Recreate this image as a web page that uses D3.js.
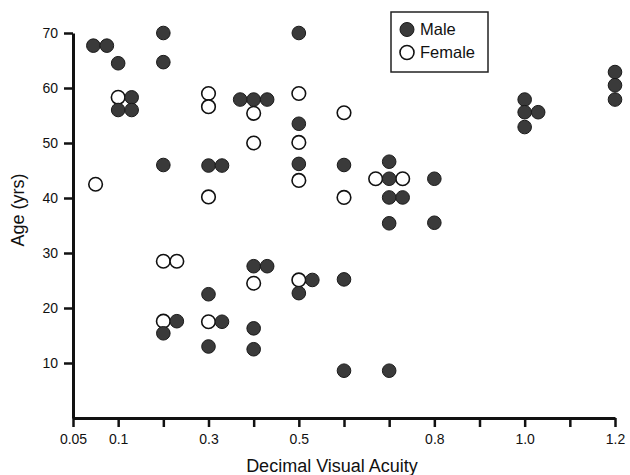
<!DOCTYPE html>
<html>
<head>
<meta charset="utf-8">
<script src="https://cdn.jsdelivr.net/npm/d3@7"></script>
<style>
    body { margin: 0; background: #fff; }
    svg { display: block; font-family: "Liberation Sans", Arial, Helvetica, sans-serif; }
</style>
</head>
<body>
<div id="chart"></div>
<script>
// Axis ticks (evenly spaced, only some labelled)
const acuityTicks = [0.05, 0.1, 0.2, 0.3, 0.4, 0.5, 0.6, 0.7, 0.8, 0.9, 1.0, 1.1, 1.2];
const acuityLabels = { 0.05: '0.05', 0.1: '0.1', 0.3: '0.3', 0.5: '0.5', 0.8: '0.8', 1.0: '1.0', 1.2: '1.2' };
const ageTicks = [10, 20, 30, 40, 50, 60, 70];

// [acuity, age, side-by-side offset in dot widths]
const males = [
    [0.08, 67.7, -0.5], [0.08, 67.7, 0.5],
    [0.1, 64.5, 0], [0.1, 58.3, 1], [0.1, 56, 0], [0.1, 56, 1],
    [0.2, 70, 0], [0.2, 64.7, 0], [0.2, 46, 0], [0.2, 17.6, 1], [0.2, 15.4, 0],
    [0.3, 45.9, 0], [0.3, 45.9, 1], [0.3, 22.5, 0], [0.3, 17.5, 1], [0.3, 13.0, 0],
    [0.4, 57.9, -1], [0.4, 57.9, 0], [0.4, 57.9, 1], [0.4, 27.6, 0], [0.4, 27.6, 1], [0.4, 16.3, 0], [0.4, 12.5, 0],
    [0.5, 70, 0], [0.5, 53.5, 0], [0.5, 46.2, 0], [0.5, 25.1, 1], [0.5, 22.7, 0],
    [0.6, 46, 0], [0.6, 25.2, 0], [0.6, 8.6, 0],
    [0.7, 46.6, 0], [0.7, 43.5, 0], [0.7, 40.1, 0], [0.7, 40.1, 1], [0.7, 35.4, 0], [0.7, 8.6, 0],
    [0.8, 43.5, 0], [0.8, 35.5, 0],
    [1.0, 57.9, 0], [1.0, 55.6, 0], [1.0, 55.6, 1], [1.0, 52.9, 0],
    [1.2, 62.9, 0], [1.2, 60.5, 0], [1.2, 57.9, 0]
];

const females = [
    [0.075, 42.5, 0],
    [0.1, 58.3, 0],
    [0.2, 28.5, 0], [0.2, 28.5, 1], [0.2, 17.6, 0],
    [0.3, 59, 0], [0.3, 56.6, 0], [0.3, 40.2, 0], [0.3, 17.5, 0],
    [0.4, 55.4, 0], [0.4, 50, 0], [0.4, 24.5, 0],
    [0.5, 59, 0], [0.5, 50.1, 0], [0.5, 43.2, 0], [0.5, 25.1, 0],
    [0.6, 55.5, 0], [0.6, 40.1, 0],
    [0.7, 43.5, -1], [0.7, 43.5, 1]
];

const W = 630, H = 475;
const margin = { top: 33, right: 15, bottom: 57, left: 73 };
const width = W - margin.left - margin.right;
const height = H - margin.top - margin.bottom;
const r = 6.8;
const dotStep = 13.5;

const svg = d3.select('#chart').append('svg')
    .attr('width', W)
    .attr('height', H);

const g = svg.append('g')
    .attr('transform', `translate(${margin.left},${margin.top})`);

// Piecewise linear: ticks are evenly spaced
const x = d3.scaleLinear()
    .domain(acuityTicks)
    .range(acuityTicks.map((d, i) => i * width / (acuityTicks.length - 1)));

const y = d3.scaleLinear()
    .domain([0, 70])
    .range([height, 0]);

// X axis
const xAxis = g.append('g')
    .attr('transform', `translate(0,${height})`)
    .call(d3.axisBottom(x)
        .tickValues(acuityTicks)
        .tickFormat(d => acuityLabels[d] || '')
        .tickSize(9)
        .tickSizeOuter(0)
        .tickPadding(7));

// Y axis
const yAxis = g.append('g')
    .call(d3.axisLeft(y)
        .tickValues(ageTicks)
        .tickSize(9)
        .tickSizeOuter(0)
        .tickPadding(6));

[xAxis, yAxis].forEach(ax => {
    ax.select('.domain').attr('stroke', '#111').attr('stroke-width', 3);
    ax.selectAll('.tick line').attr('stroke', '#111').attr('stroke-width', 2.5);
    ax.selectAll('.tick text')
        .style('font-size', '14px')
        .style('font-family', '"Liberation Sans", Arial, sans-serif')
        .attr('fill', '#111');
});

// Axis titles
svg.append('text')
    .attr('x', 332)
    .attr('y', 472)
    .attr('text-anchor', 'middle')
    .style('font-size', '18px')
    .attr('fill', '#111')
    .text('Decimal Visual Acuity');

svg.append('text')
    .attr('transform', 'translate(24,210) rotate(-90)')
    .attr('text-anchor', 'middle')
    .style('font-size', '18px')
    .attr('fill', '#111')
    .text('Age (yrs)');

// Points: females first, males on top
g.selectAll('.female')
    .data(females)
    .enter()
    .append('circle')
    .attr('class', 'female')
    .attr('cx', d => x(d[0]) + d[2] * dotStep)
    .attr('cy', d => y(d[1]))
    .attr('r', r)
    .attr('fill', '#fff')
    .attr('stroke', '#111')
    .attr('stroke-width', 1.6);

g.selectAll('.male')
    .data(males)
    .enter()
    .append('circle')
    .attr('class', 'male')
    .attr('cx', d => x(d[0]) + d[2] * dotStep)
    .attr('cy', d => y(d[1]))
    .attr('r', r)
    .attr('fill', '#3a3a3a')
    .attr('stroke', '#1a1a1a')
    .attr('stroke-width', 1);

// Legend
const legend = svg.append('g')
    .attr('transform', 'translate(391,12)');

legend.append('rect')
    .attr('width', 97)
    .attr('height', 60)
    .attr('fill', '#fff')
    .attr('stroke', '#222')
    .attr('stroke-width', 1.5);

legend.append('circle')
    .attr('cx', 16)
    .attr('cy', 17.5)
    .attr('r', 7)
    .attr('fill', '#3a3a3a')
    .attr('stroke', '#1a1a1a');

legend.append('text')
    .attr('x', 29)
    .attr('y', 23)
    .style('font-size', '16.5px')
    .attr('fill', '#111')
    .text('Male');

legend.append('circle')
    .attr('cx', 16)
    .attr('cy', 40.5)
    .attr('r', 7)
    .attr('fill', '#fff')
    .attr('stroke', '#111')
    .attr('stroke-width', 1.6);

legend.append('text')
    .attr('x', 29)
    .attr('y', 46)
    .style('font-size', '16.5px')
    .attr('fill', '#111')
    .text('Female');
</script>
</body>
</html>
